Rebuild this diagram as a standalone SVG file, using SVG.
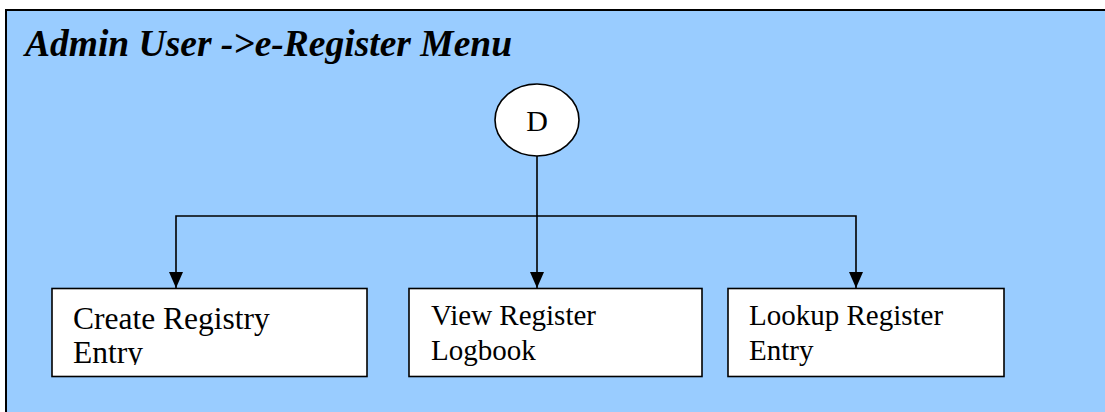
<svg xmlns="http://www.w3.org/2000/svg" width="1105" height="412" viewBox="0 0 1105 412">
<defs>
<style>
.bg{fill:#99ccff;stroke:#000;stroke-width:2}
.box{fill:#fff;stroke:#000;stroke-width:1.6}
.title{font-family:"Liberation Serif","Times New Roman",serif;font-size:37.5px;font-weight:bold;font-style:italic;fill:#000}
.lbl{font-family:"Liberation Serif","Times New Roman",serif;font-size:29px;fill:#000}
.lbl1{font-family:"Liberation Serif","Times New Roman",serif;font-size:31.5px;fill:#000}
.lblD{font-family:"Liberation Serif","Times New Roman",serif;font-size:30px;fill:#000}
.conn{fill:none;stroke:#000;stroke-width:1.6}
</style>
<marker id="arr" viewBox="0 0 16 14" refX="16" refY="7" markerWidth="16" markerHeight="14" markerUnits="userSpaceOnUse" orient="auto">
<path d="M0,0 L16,7 L0,14 Z" fill="#000"/>
</marker>
<clipPath id="clip1"><rect x="52" y="289" width="315" height="76"/></clipPath>
</defs>
<rect class="bg" x="6" y="10" width="1110" height="420"/>
<text class="title" x="25" y="56">Admin User -&gt;e-Register Menu</text>
<g id="connectors">
<line class="conn" x1="537" y1="156" x2="537" y2="288" marker-end="url(#arr)"/>
<polyline class="conn" points="537,216 176,216 176,288" marker-end="url(#arr)"/>
<polyline class="conn" points="537,216 856,216 856,288" marker-end="url(#arr)"/>
</g>
<g id="node-d">
<ellipse class="box" cx="537" cy="120" rx="42" ry="36"/>
<text class="lblD" x="537" y="131" text-anchor="middle">D</text>
</g>
<g id="node-create">
<rect class="box" x="52" y="288.5" width="315" height="88"/>
<text class="lbl1" clip-path="url(#clip1)"><tspan x="73" y="329">Create Registry</tspan><tspan x="73" y="363">Entry</tspan></text>
</g>
<g id="node-view">
<rect class="box" x="409" y="288.5" width="293" height="88"/>
<text class="lbl"><tspan x="431" y="325">View Register</tspan><tspan x="431" y="360">Logbook</tspan></text>
</g>
<g id="node-lookup">
<rect class="box" x="728" y="288.5" width="276" height="88"/>
<text class="lbl"><tspan x="749" y="325">Lookup Register</tspan><tspan x="749" y="360">Entry</tspan></text>
</g>
</svg>
